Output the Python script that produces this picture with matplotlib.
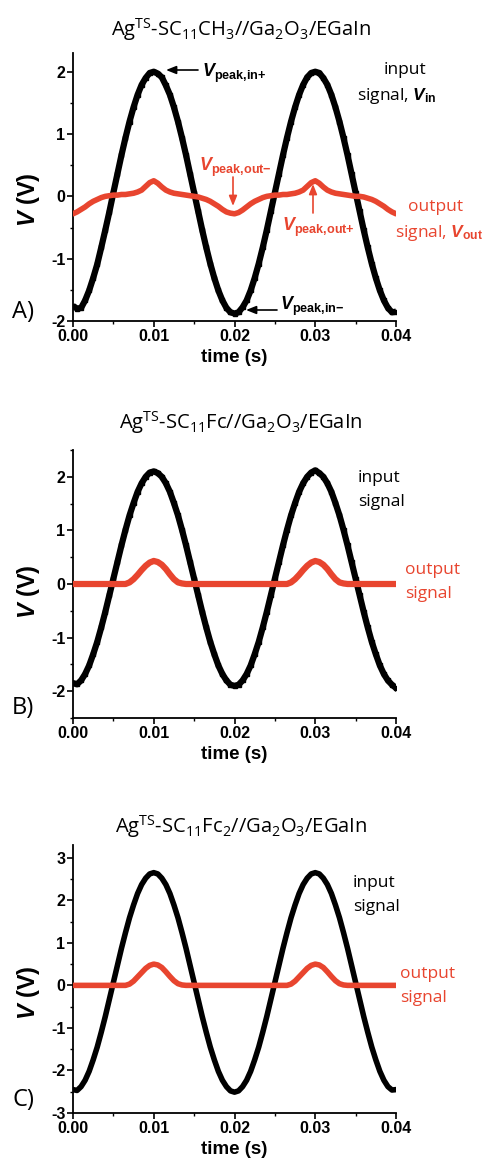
import numpy as np
import matplotlib
matplotlib.use("Agg")
import matplotlib.pyplot as plt

plt.rcParams['mathtext.fontset'] = 'custom'
plt.rcParams['mathtext.rm'] = 'Open Sans'
plt.rcParams['mathtext.it'] = 'Open Sans:italic'
plt.rcParams['mathtext.bf'] = 'Liberation Sans:bold'
plt.rcParams['mathtext.bfit'] = 'Liberation Sans:italic:bold'

# ---------------- data ----------------
time_s = [i * 0.0005 for i in range(81)]

vin_A = [-1.76, -1.80, -1.79, -1.67, -1.51, -1.31, -1.09, -0.82, -0.54, -0.25, 0.06,
         0.36, 0.66, 0.94, 1.20, 1.43, 1.63, 1.79, 1.90, 1.98, 2.00,
         1.97, 1.91, 1.78, 1.63, 1.43, 1.20, 0.94, 0.66, 0.36, 0.06,
         -0.24, -0.54, -0.82, -1.08, -1.31, -1.51, -1.67, -1.79, -1.86, -1.88,
         -1.86, -1.78, -1.67, -1.51, -1.31, -1.08, -0.82, -0.54, -0.24, 0.06,
         0.36, 0.66, 0.94, 1.20, 1.43, 1.63, 1.79, 1.91, 1.98, 2.00,
         1.98, 1.90, 1.79, 1.63, 1.43, 1.20, 0.94, 0.66, 0.36, 0.06,
         -0.24, -0.54, -0.82, -1.08, -1.31, -1.51, -1.67, -1.79, -1.86, -1.85]

vout_A = [-0.28, -0.25, -0.21, -0.17, -0.12, -0.08, -0.05, -0.02, 0.00, 0.01, 0.02,
          0.02, 0.03, 0.03, 0.04, 0.05, 0.07, 0.10, 0.16, 0.22, 0.25,
          0.21, 0.15, 0.10, 0.07, 0.05, 0.04, 0.03, 0.02, 0.01, 0.00,
          -0.01, -0.03, -0.05, -0.08, -0.12, -0.16, -0.21, -0.25, -0.27, -0.28,
          -0.26, -0.22, -0.17, -0.12, -0.08, -0.05, -0.02, 0.00, 0.01, 0.02,
          0.02, 0.03, 0.03, 0.04, 0.05, 0.07, 0.10, 0.16, 0.22, 0.25,
          0.21, 0.15, 0.10, 0.07, 0.05, 0.04, 0.03, 0.02, 0.01, 0.00,
          0.00, -0.01, -0.03, -0.05, -0.08, -0.12, -0.16, -0.21, -0.25, -0.28]

vin_B = [-1.85, -1.87, -1.80, -1.68, -1.52, -1.31, -1.08, -0.81, -0.52, -0.21, 0.10,
         0.41, 0.72, 1.01, 1.28, 1.51, 1.72, 1.88, 2.00, 2.08, 2.10,
         2.07, 2.00, 1.88, 1.72, 1.51, 1.28, 1.01, 0.72, 0.41, 0.10,
         -0.21, -0.52, -0.81, -1.08, -1.31, -1.52, -1.68, -1.80, -1.88, -1.90,
         -1.88, -1.80, -1.68, -1.52, -1.31, -1.08, -0.81, -0.52, -0.21, 0.10,
         0.41, 0.72, 1.01, 1.28, 1.51, 1.72, 1.88, 2.00, 2.08, 2.12,
         2.07, 2.00, 1.88, 1.72, 1.51, 1.28, 1.01, 0.72, 0.41, 0.10,
         -0.21, -0.52, -0.81, -1.08, -1.31, -1.52, -1.68, -1.80, -1.88, -1.94]

vout_B = [0.00, 0.00, 0.00, 0.00, 0.00, 0.00, 0.00, 0.00, 0.00, 0.00, 0.00,
          0.00, 0.00, 0.00, 0.03, 0.09, 0.17, 0.26, 0.34, 0.40, 0.43,
          0.41, 0.36, 0.28, 0.18, 0.09, 0.03, 0.01, 0.00, 0.00, 0.00,
          0.00, 0.00, 0.00, 0.00, 0.00, 0.00, 0.00, 0.00, 0.00, 0.00,
          0.00, 0.00, 0.00, 0.00, 0.00, 0.00, 0.00, 0.00, 0.00, 0.00,
          0.00, 0.00, 0.00, 0.03, 0.09, 0.17, 0.26, 0.34, 0.40, 0.43,
          0.41, 0.36, 0.28, 0.18, 0.09, 0.03, 0.01, 0.00, 0.00, 0.00,
          0.00, 0.00, 0.00, 0.00, 0.00, 0.00, 0.00, 0.00, 0.00, 0.00]

vin_C = [-2.45, -2.47, -2.38, -2.23, -2.02, -1.75, -1.45, -1.10, -0.73, -0.33, 0.07,
         0.47, 0.87, 1.24, 1.59, 1.89, 2.16, 2.37, 2.52, 2.62, 2.65,
         2.62, 2.52, 2.37, 2.16, 1.89, 1.59, 1.24, 0.87, 0.47, 0.07,
         -0.33, -0.73, -1.10, -1.45, -1.75, -2.02, -2.23, -2.38, -2.48, -2.51,
         -2.48, -2.38, -2.23, -2.02, -1.75, -1.45, -1.10, -0.73, -0.33, 0.07,
         0.47, 0.87, 1.24, 1.59, 1.89, 2.16, 2.37, 2.52, 2.62, 2.65,
         2.62, 2.52, 2.37, 2.16, 1.89, 1.59, 1.24, 0.87, 0.47, 0.07,
         -0.33, -0.73, -1.10, -1.45, -1.75, -2.02, -2.23, -2.38, -2.46, -2.45]

vout_C = [0.00, 0.00, 0.00, 0.00, 0.00, 0.00, 0.00, 0.00, 0.00, 0.00, 0.00,
          0.00, 0.00, 0.00, 0.03, 0.10, 0.20, 0.30, 0.40, 0.47, 0.50,
          0.48, 0.42, 0.32, 0.21, 0.11, 0.04, 0.01, 0.00, 0.00, 0.00,
          0.00, 0.00, 0.00, 0.00, 0.00, 0.00, 0.00, 0.00, 0.00, 0.00,
          0.00, 0.00, 0.00, 0.00, 0.00, 0.00, 0.00, 0.00, 0.00, 0.00,
          0.00, 0.00, 0.00, 0.03, 0.10, 0.20, 0.30, 0.40, 0.47, 0.50,
          0.48, 0.42, 0.32, 0.21, 0.11, 0.04, 0.01, 0.00, 0.00, 0.00,
          0.00, 0.00, 0.00, 0.00, 0.00, 0.00, 0.00, 0.00, 0.00, 0.00]

x_ticks = [0.00, 0.01, 0.02, 0.03, 0.04]
x_ticklabels = ["0.00", "0.01", "0.02", "0.03", "0.04"]

titles = [r"Ag$^{\mathrm{TS}}$-SC$_{\mathrm{11}}$CH$_{\mathrm{3}}$//Ga$_{\mathrm{2}}$O$_{\mathrm{3}}$/EGaIn",
          r"Ag$^{\mathrm{TS}}$-SC$_{\mathrm{11}}$Fc//Ga$_{\mathrm{2}}$O$_{\mathrm{3}}$/EGaIn",
          r"Ag$^{\mathrm{TS}}$-SC$_{\mathrm{11}}$Fc$_{\mathrm{2}}$//Ga$_{\mathrm{2}}$O$_{\mathrm{3}}$/EGaIn"]
panel_labels = ["A)", "B)", "C)"]

RED = "#e8452f"
W, H = 482, 1168

fig = plt.figure(figsize=(W / 100, H / 100), dpi=100)


def fx(x):
    return x / W


def fy(y):
    return 1 - y / H


def make_axes(top, bottom, ylim, yticks, yminor):
    ax = fig.add_axes([fx(73), fy(bottom), fx(396) - fx(73), fy(top) - fy(bottom)])
    ax.set_xlim(0, 0.04)
    ax.set_ylim(*ylim)
    for s in ("top", "right"):
        ax.spines[s].set_visible(False)
    for s in ("left", "bottom"):
        ax.spines[s].set_linewidth(1.3)
    ax.set_xticks(x_ticks)
    ax.set_xticklabels(x_ticklabels)
    ax.set_xticks([0.005, 0.015, 0.025, 0.035], minor=True)
    ax.set_yticks(yticks)
    ax.set_yticklabels([str(v) for v in yticks])
    ax.set_yticks(yminor, minor=True)
    ax.tick_params(which="major", direction="out", length=4, width=1.2, pad=1.5)
    ax.tick_params(which="minor", direction="out", length=2.5, width=1.0)
    for lab in ax.get_xticklabels() + ax.get_yticklabels():
        lab.set_fontfamily("Liberation Sans")
        lab.set_fontweight("bold")
        lab.set_fontsize(11.5)
    ax.set_xlabel("time (s)", fontfamily="Liberation Sans", fontweight="bold",
                  fontsize=13.5, labelpad=4)
    ax.set_ylabel(r"$\mathbfit{V}$ (V)", fontfamily="Liberation Sans",
                  fontweight="bold", fontsize=17, labelpad=2)
    ax.patch.set_alpha(0)
    return ax


# ---------- Panel A ----------
axA = make_axes(53, 321, (-2, 2.3), [-2, -1, 0, 1, 2], [-1.5, -0.5, 0.5, 1.5])
axA.plot(time_s, vin_A, color="black", lw=4.5, marker="s", ms=3.5,
         solid_capstyle="butt", zorder=2)
axA.plot(time_s, vout_A, color=RED, lw=4.0, zorder=3, solid_capstyle="round")

# ---------- Panel B ----------
axB = make_axes(450, 718, (-2.5, 2.5), [-2, -1, 0, 1, 2], [-2.5, -1.5, -0.5, 0.5, 1.5, 2.5])
axB.plot(time_s, vin_B, color="black", lw=4.5, marker="s", ms=3.5, zorder=2)
axB.plot(time_s, vout_B, color=RED, lw=4.5, zorder=3, solid_capstyle="round")

# ---------- Panel C ----------
axC = make_axes(845, 1113, (-3, 3.3), [-3, -2, -1, 0, 1, 2, 3],
                [-2.5, -1.5, -0.5, 0.5, 1.5, 2.5])
axC.plot(time_s, vin_C, color="black", lw=4.0, zorder=2, solid_capstyle="round")
axC.plot(time_s, vout_C, color=RED, lw=4.0, zorder=3, solid_capstyle="round")

axA.yaxis.set_label_coords(-0.095, (2.0 - 0.05) / 4.3)
axB.yaxis.set_label_coords(-0.095, 0.47)
axC.yaxis.set_label_coords(-0.095, 0.45)

# titles
for y, t in zip([30, 423, 827], titles):
    fig.text(fx(241), fy(y), t, ha="center", va="center", fontsize=14.5,
             family="Open Sans")

# panel labels
for y, t in zip([312, 708, 1100], panel_labels):
    fig.text(fx(12), fy(y), t, ha="left", va="center", fontsize=17,
             family="Open Sans")

ANN = 12.5
# panel A annotations
fig.text(fx(405), fy(70), "input", ha="center", va="center", fontsize=ANN,
         family="Open Sans")
fig.text(fx(357), fy(96), r"signal, $\mathbfit{V}_{\mathbf{in}}$", ha="left",
         va="center", fontsize=ANN, family="Open Sans")
fig.text(fx(408), fy(207), "output", ha="left", va="center", fontsize=ANN,
         family="Open Sans", color=RED)
fig.text(fx(395), fy(233), r"signal, $\mathbfit{V}_{\mathbf{out}}$", ha="left",
         va="center", fontsize=ANN, family="Open Sans", color=RED)

fig.text(fx(202), fy(73), r"$\mathbfit{V}_{\mathbf{peak{,}in{+}}}$", ha="left",
         va="center", fontsize=13)
fig.text(fx(280), fy(306), r"$\mathbfit{V}_{\mathbf{peak{,}in{-}}}$", ha="left",
         va="center", fontsize=13)
fig.text(fx(199), fy(167), r"$\mathbfit{V}_{\mathbf{peak{,}out{-}}}$", ha="left",
         va="center", fontsize=13, color=RED)
fig.text(fx(282), fy(227), r"$\mathbfit{V}_{\mathbf{peak{,}out{+}}}$", ha="left",
         va="center", fontsize=13, color=RED)

arrow_k = dict(arrowstyle="-|>,head_length=0.5,head_width=0.2", lw=1.2,
               shrinkA=0, shrinkB=0)
fig.add_artist(matplotlib.patches.FancyArrowPatch(
    (fx(198), fy(70)), (fx(166), fy(70)), transform=fig.transFigure,
    color="black", mutation_scale=12, **arrow_k))
fig.add_artist(matplotlib.patches.FancyArrowPatch(
    (fx(277), fy(310)), (fx(246), fy(310)), transform=fig.transFigure,
    color="black", mutation_scale=12, **arrow_k))
fig.add_artist(matplotlib.patches.FancyArrowPatch(
    (fx(233), fy(177)), (fx(233), fy(206)), transform=fig.transFigure,
    color=RED, mutation_scale=12, **arrow_k))
fig.add_artist(matplotlib.patches.FancyArrowPatch(
    (fx(313), fy(213)), (fx(313), fy(184)), transform=fig.transFigure,
    color=RED, mutation_scale=12, **arrow_k))

# panel B annotations
fig.text(fx(358), fy(478), "input", ha="left", va="center", fontsize=ANN,
         family="Open Sans")
fig.text(fx(358), fy(502), "signal", ha="left", va="center", fontsize=ANN,
         family="Open Sans")
fig.text(fx(405), fy(570), "output", ha="left", va="center", fontsize=ANN,
         family="Open Sans", color=RED)
fig.text(fx(405), fy(594), "signal", ha="left", va="center", fontsize=ANN,
         family="Open Sans", color=RED)

# panel C annotations
fig.text(fx(353), fy(883), "input", ha="left", va="center", fontsize=ANN,
         family="Open Sans")
fig.text(fx(353), fy(907), "signal", ha="left", va="center", fontsize=ANN,
         family="Open Sans")
fig.text(fx(400), fy(974), "output", ha="left", va="center", fontsize=ANN,
         family="Open Sans", color=RED)
fig.text(fx(400), fy(998), "signal", ha="left", va="center", fontsize=ANN,
         family="Open Sans", color=RED)

fig.savefig("out.png", dpi=100, facecolor="white")
